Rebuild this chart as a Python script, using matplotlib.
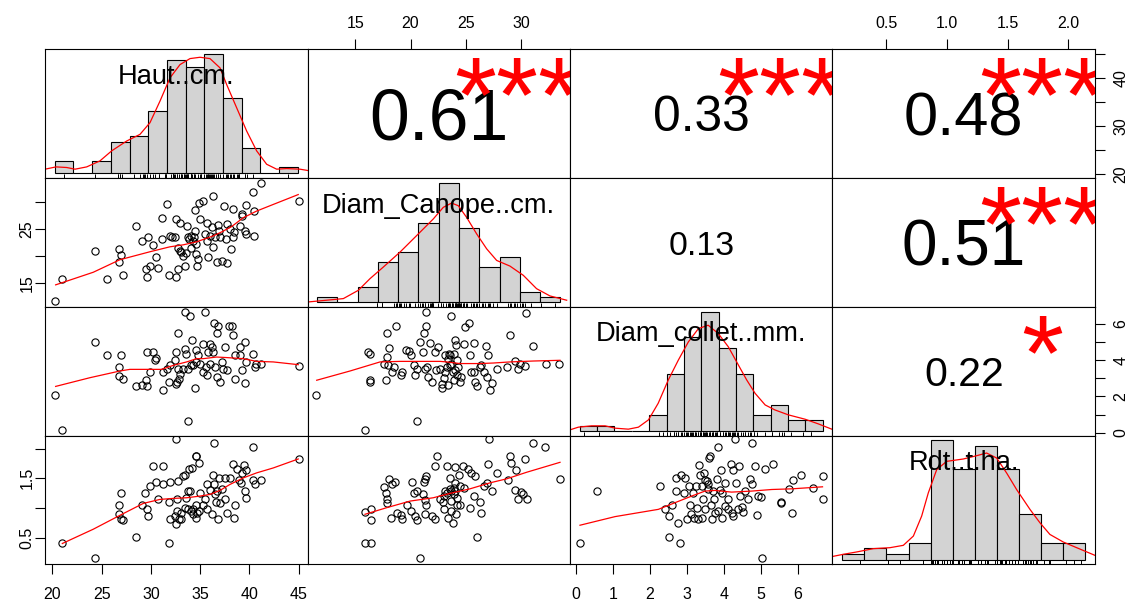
import numpy as np
import matplotlib.pyplot as plt
from matplotlib.transforms import offset_copy

plt.rcParams['font.family'] = ['Liberation Sans', 'DejaVu Sans']

labels = ['Haut..cm.', 'Diam_Canope..cm.', 'Diam_collet..mm.', 'Rdt..t.ha.']

# axis range of each variable (x in its column, y in its row)
lims = [(19.25, 45.9), (10.7, 34.4), (-0.16, 6.94), (0.055, 2.22)]
ticks = [[20, 25, 30, 35, 40, 45], [15, 20, 25, 30], [0, 1, 2, 3, 4, 5, 6], [0.5, 1.0, 1.5, 2.0]]
xtick_labels = [['20', '25', '30', '35', '40', '45'], ['15', '20', '25', '30'],
                ['0', '1', '2', '3', '4', '5', '6'], ['0.5', '1.0', '1.5', '2.0']]
ytick_labels = [['20', '', '30', '', '40', ''], ['15', '', '25', ''],
                ['0', '', '2', '', '4', '', '6'], ['0.5', '', '1.5', '']]

# histograms (breaks and counts)
haut_breaks = [20, 22, 24, 26, 28, 30, 32, 34, 36, 38, 40, 42, 44, 46]
haut_counts = [2, 0, 2, 5, 6, 10, 18, 17, 19, 12, 4, 0, 1]
canope_breaks = [10, 12, 14, 16, 18, 20, 22, 24, 26, 28, 30, 32, 34]
canope_counts = [1, 0, 3, 8, 10, 16, 24, 15, 7, 9, 2, 1]
collet_breaks = [0, 0.5, 1, 1.5, 2, 2.5, 3, 3.5, 4, 4.5, 5, 5.5, 6, 6.5, 7]
collet_counts = [1, 1, 0, 0, 3, 11, 18, 23, 16, 11, 3, 5, 2, 2]
rdt_breaks = [0.0, 0.2, 0.4, 0.6, 0.8, 1.0, 1.2, 1.4, 1.6, 1.8, 2.0, 2.2]
rdt_counts = [1, 2, 1, 3, 21, 16, 20, 16, 8, 3, 3]

# kernel density curves
haut_dens_x = [18.96, 20.14, 21.28, 22.17, 23.42, 24.84, 26.09, 27.70, 29.12, 30.19, 31.26, 32.33, 33.40,
               34.47, 35.54, 36.61, 37.68, 38.39, 39.46, 40.53, 41.60, 42.67, 43.74, 44.81, 46.24, 47.31]
haut_dens_y = [0.0034, 0.0053, 0.0048, 0.0034, 0.0053, 0.0103, 0.0186, 0.0268, 0.0323, 0.0420, 0.0599, 0.0792,
               0.0902, 0.0952, 0.0963, 0.0952, 0.0875, 0.0737, 0.0544, 0.0351, 0.0186, 0.0075, 0.0034, 0.0039,
               0.0034, 0.0020]
canope_dens_x = [9.12, 10.93, 12.58, 14.06, 15.21, 16.53, 18.17, 19.82, 21.46, 22.45, 23.27, 23.93, 24.75,
                 25.74, 26.73, 27.72, 29.03, 30.35, 31.66, 32.98, 34.63]
canope_dens_y = [0.0001, 0.0019, 0.0036, 0.0123, 0.0245, 0.0367, 0.0523, 0.0697, 0.0871, 0.0993, 0.1038,
                 0.1010, 0.0888, 0.0715, 0.0558, 0.0436, 0.0377, 0.0280, 0.0140, 0.0064, 0.0019]
collet_dens_x = [-0.28, -0.04, 0.34, 0.73, 1.02, 1.40, 1.69, 1.98, 2.26, 2.55, 2.84, 3.13, 3.42, 3.70, 3.99,
                 4.28, 4.57, 4.81, 5.05, 5.34, 5.62, 6.01, 6.49, 6.87, 7.26]
collet_dens_y = [0.0038, 0.0145, 0.0199, 0.0199, 0.0105, 0.0065, 0.0145, 0.0439, 0.1106, 0.2040, 0.2841,
                 0.3575, 0.4109, 0.4243, 0.3909, 0.3375, 0.2641, 0.2040, 0.1507, 0.1039, 0.0839, 0.0639,
                 0.0465, 0.0278, 0.0065]
rdt_dens_x = [-0.096, 0.010, 0.131, 0.282, 0.432, 0.553, 0.644, 0.719, 0.779, 0.855, 0.945, 1.096, 1.217,
              1.307, 1.398, 1.488, 1.579, 1.700, 1.790, 1.880, 2.001, 2.122, 2.288]
rdt_dens_y = [0.027, 0.049, 0.071, 0.102, 0.111, 0.133, 0.220, 0.407, 0.624, 0.842, 0.920, 0.942, 0.973,
              0.998, 0.951, 0.811, 0.655, 0.469, 0.344, 0.235, 0.164, 0.111, 0.039]

# scatter panels
haut_canope_x = [20.3, 21.0, 24.3, 25.5, 26.8, 27.0, 26.8, 27.2, 28.5, 29.1, 29.7, 29.5, 29.9, 29.6, 30.2,
                 30.5, 30.7, 31.1, 31.1, 31.6, 31.8, 31.9, 32.1, 32.4, 32.6, 32.6, 32.8, 33.0, 32.8, 33.0,
                 33.1, 33.5, 33.7, 33.8, 33.6, 33.9, 34.1, 34.3, 34.4, 34.5, 34.6, 34.5, 34.6, 34.8, 34.7,
                 34.9, 35.3, 35.0, 35.5, 35.7, 35.8, 36.0, 36.2, 36.3, 36.3, 36.5, 36.7, 36.8, 36.9, 37.0,
                 37.2, 37.4, 37.6, 37.7, 37.7, 38.0, 38.1, 38.3, 38.3, 38.4, 39.0, 39.2, 39.3, 39.6, 39.7,
                 39.7, 40.4, 40.5, 40.5, 41.2, 45.0, 35.7, 33.3, 34.1]
haut_canope_y = [11.7, 15.8, 20.9, 15.8, 21.3, 20.3, 18.9, 16.5, 25.6, 22.8, 23.5, 17.7, 18.2, 16.1, 22.1,
                 19.8, 17.8, 27.1, 23.1, 29.7, 16.5, 23.8, 23.5, 23.6, 26.8, 16.1, 17.7, 26.2, 21.6, 21.0,
                 20.7, 18.3, 25.6, 23.5, 20.6, 23.1, 23.8, 22.8, 23.5, 28.6, 22.2, 24.7, 20.4, 19.5, 18.2,
                 29.8, 30.1, 26.8, 24.1, 26.2, 19.8, 23.8, 25.3, 31.1, 21.7, 23.5, 19.0, 25.7, 24.7, 23.5,
                 19.2, 29.2, 23.1, 25.9, 18.8, 25.0, 21.3, 28.7, 23.5, 24.4, 25.6, 27.4, 27.7, 24.7, 29.4,
                 24.1, 31.9, 28.4, 23.8, 33.4, 30.1, 22.8, 20.1, 21.6]
haut_collet_x = [20.3, 21.0, 24.3, 25.5, 27.0, 26.8, 26.8, 27.2, 28.5, 29.1, 29.5, 29.6, 29.9, 29.6, 30.2,
                 30.5, 30.4, 31.2, 31.2, 31.6, 31.8, 31.9, 32.4, 32.6, 32.7, 32.8, 33.0, 32.8, 32.9, 32.6,
                 33.5, 33.6, 33.8, 33.8, 33.5, 34.0, 34.2, 34.5, 34.3, 34.6, 34.8, 34.6, 35.0, 35.3, 35.3,
                 35.5, 35.7, 35.8, 36.0, 36.2, 36.3, 36.4, 36.7, 36.8, 36.5, 36.7, 37.0, 37.5, 37.3, 37.7,
                 37.9, 38.2, 38.3, 38.5, 38.5, 39.0, 39.2, 39.0, 39.6, 39.6, 39.7, 40.4, 40.6, 40.7, 41.2,
                 45.0, 34.1, 33.3, 35.6, 36.0, 37.2]
haut_collet_y = [2.06, 0.13, 5.00, 4.26, 4.26, 3.62, 3.11, 2.98, 2.55, 2.61, 2.89, 2.55, 3.35, 4.45, 4.45,
                 4.14, 3.99, 2.33, 3.35, 3.53, 2.79, 3.71, 3.99, 4.45, 2.79, 5.52, 3.25, 3.53, 2.98, 2.70,
                 4.63, 4.36, 3.53, 0.62, 6.66, 6.42, 5.09, 2.48, 3.71, 4.54, 4.26, 3.90, 3.81, 4.91, 3.35,
                 6.64, 3.16, 4.45, 4.91, 4.72, 4.45, 6.05, 5.50, 5.87, 3.62, 3.07, 2.79, 4.72, 3.53, 3.44,
                 5.87, 5.87, 5.37, 4.26, 2.98, 4.26, 3.47, 4.72, 2.74, 5.00, 3.90, 4.36, 3.62, 3.81, 3.81,
                 3.66, 3.71, 3.53, 3.62, 3.81, 3.90]
haut_rdt_x = [21.0, 24.3, 26.8, 27.0, 26.8, 27.0, 27.2, 28.5, 29.1, 29.4, 29.6, 29.7, 29.9, 30.2, 30.5,
              30.7, 31.2, 31.2, 31.8, 31.8, 31.9, 31.9, 32.4, 32.6, 32.7, 32.7, 32.8, 32.6, 32.9, 33.1,
              33.1, 33.3, 33.5, 33.6, 33.8, 33.9, 34.0, 34.1, 34.2, 34.3, 34.6, 34.6, 34.6, 34.6, 34.7,
              34.9, 34.9, 35.0, 35.3, 35.5, 35.7, 35.7, 36.0, 36.2, 36.3, 36.4, 36.4, 36.5, 36.6, 36.7,
              36.8, 36.9, 37.0, 37.2, 37.5, 37.5, 37.7, 38.0, 38.3, 38.4, 38.5, 38.7, 38.9, 39.1, 39.2,
              39.5, 39.6, 39.7, 39.7, 40.4, 40.4, 40.6, 41.2, 45.0, 33.8, 34.3, 33.5]
haut_rdt_y = [0.41, 0.16, 1.05, 1.26, 0.90, 0.82, 0.80, 0.52, 1.06, 1.26, 0.99, 0.87, 1.38, 1.70, 1.44,
              1.16, 1.71, 1.40, 1.10, 0.41, 1.44, 0.82, 0.86, 0.73, 0.95, 1.16, 1.45, 2.16, 0.82, 0.81,
              0.92, 1.54, 1.56, 1.17, 1.29, 1.65, 1.29, 0.95, 1.68, 0.98, 1.88, 1.87, 1.06, 0.84, 0.92,
              1.76, 0.95, 1.26, 1.06, 1.15, 1.40, 0.98, 1.31, 0.90, 1.56, 2.10, 1.40, 1.23, 1.10, 1.29,
              0.82, 1.51, 1.08, 1.32, 1.51, 1.15, 0.92, 1.51, 1.75, 0.84, 1.05, 1.66, 1.48, 1.43, 1.59,
              1.73, 1.29, 1.64, 1.17, 2.03, 1.47, 1.40, 1.48, 1.83, 0.98, 0.90, 1.00]
canope_collet_x = [11.5, 15.9, 20.6, 16.3, 16.3, 16.2, 16.3, 17.6, 17.9, 18.7, 18.1, 17.9, 18.0, 18.3, 18.5,
                   17.8, 19.1, 19.2, 19.6, 19.9, 20.0, 20.3, 20.4, 20.6, 20.9, 21.1, 21.2, 21.4, 21.4, 21.3,
                   21.5, 21.6, 21.8, 21.9, 22.2, 22.3, 22.5, 22.7, 22.8, 23.0, 23.1, 23.3, 23.4, 23.5, 23.6,
                   23.7, 23.7, 23.8, 23.9, 23.9, 24.0, 24.1, 24.2, 24.3, 24.5, 24.6, 24.8, 24.9, 25.3, 25.4,
                   25.5, 25.7, 25.8, 26.0, 26.3, 26.4, 26.6, 26.8, 27.0, 26.9, 27.2, 27.4, 27.8, 28.7, 29.0,
                   29.4, 29.7, 29.9, 30.3, 30.4, 31.1, 32.2, 33.4, 23.6, 24.0, 23.1, 23.4, 22.8, 24.2, 25.7]
canope_collet_y = [2.06, 0.13, 0.62, 2.89, 2.77, 4.45, 4.36, 3.81, 5.52, 5.87, 4.67, 4.17, 3.71, 3.35, 3.62,
                   2.92, 3.16, 3.35, 4.54, 4.50, 4.27, 3.71, 3.16, 3.53, 5.00, 4.45, 5.50, 5.87, 6.66, 3.53,
                   3.62, 3.07, 4.95, 2.79, 4.45, 3.44, 4.73, 3.53, 2.48, 3.03, 4.27, 3.62, 4.08, 4.36, 4.27,
                   6.42, 3.81, 3.35, 2.89, 4.36, 5.09, 4.82, 3.99, 3.62, 2.79, 3.07, 4.87, 5.83, 6.05, 4.27,
                   3.35, 4.95, 2.79, 2.55, 3.62, 3.71, 3.35, 4.76, 4.27, 3.07, 2.33, 2.74, 3.49, 3.62, 5.37,
                   3.95, 3.53, 3.77, 3.68, 6.62, 4.76, 3.81, 3.81, 3.71, 3.44, 3.35, 2.61, 2.70, 3.16, 3.35]
canope_rdt_x = [15.9, 16.4, 20.9, 26.0, 15.9, 16.4, 16.4, 17.6, 17.8, 17.9, 17.9, 18.1, 18.3, 18.6, 18.2,
                18.8, 19.1, 19.2, 19.7, 20.0, 20.1, 20.3, 20.6, 20.4, 20.6, 21.1, 21.2, 21.3, 21.4, 21.3,
                21.4, 21.3, 21.9, 22.2, 22.2, 22.4, 22.7, 22.9, 23.0, 23.1, 23.3, 23.4, 23.6, 23.6, 23.7,
                23.7, 23.8, 23.9, 23.9, 24.0, 24.0, 24.1, 24.2, 24.2, 24.4, 24.5, 24.7, 24.8, 25.2, 25.4,
                25.5, 25.7, 25.8, 26.3, 26.4, 26.6, 26.9, 27.0, 27.1, 27.4, 27.8, 28.8, 29.0, 29.1, 29.4,
                29.5, 29.7, 30.0, 30.2, 30.3, 30.5, 31.1, 32.1, 33.5, 23.3, 23.7, 24.0, 23.0, 24.5]
canope_rdt_y = [0.41, 0.41, 0.16, 0.52, 0.94, 0.99, 0.80, 1.36, 1.26, 1.15, 1.08, 1.49, 1.40, 1.44, 0.84,
                0.92, 0.88, 0.82, 1.05, 0.95, 1.44, 1.26, 1.29, 0.87, 0.80, 1.23, 1.44, 1.49, 1.54, 1.14,
                1.06, 0.90, 0.87, 0.82, 1.70, 1.87, 1.15, 1.10, 0.98, 1.29, 1.71, 0.84, 1.51, 1.32, 1.29,
                0.95, 0.75, 1.34, 1.23, 1.69, 1.43, 0.90, 1.17, 1.05, 1.55, 1.05, 1.71, 1.34, 1.65, 1.01,
                1.59, 1.21, 1.54, 1.10, 0.92, 1.38, 1.43, 1.75, 2.16, 1.29, 1.59, 1.48, 1.88, 1.76, 1.31,
                1.64, 1.16, 1.27, 1.23, 1.83, 1.16, 2.10, 2.03, 1.49, 1.26, 1.12, 1.29, 1.20, 1.37]
collet_rdt_x = [0.11, 0.56, 2.27, 2.41, 2.51, 2.51, 2.61, 2.72, 2.72, 2.77, 2.82, 2.84, 2.91, 2.95, 3.00,
                3.06, 3.09, 3.11, 3.18, 3.20, 3.24, 3.27, 3.31, 3.33, 3.36, 3.40, 3.42, 3.45, 3.47, 3.49,
                3.54, 3.56, 3.58, 3.60, 3.63, 3.65, 3.67, 3.72, 3.74, 3.81, 3.83, 3.85, 3.90, 3.92, 3.94,
                3.96, 4.03, 4.12, 4.12, 4.19, 4.26, 4.26, 4.30, 4.32, 4.38, 4.41, 4.44, 4.48, 4.53, 4.57,
                4.65, 4.71, 4.75, 4.77, 4.84, 4.89, 4.92, 5.01, 5.02, 5.12, 5.34, 5.55, 5.55, 5.75, 5.84,
                5.88, 6.09, 6.42, 6.67, 6.67, 3.49, 3.76, 4.03, 4.21]
collet_rdt_y = [0.41, 1.29, 1.38, 0.98, 0.87, 0.52, 1.06, 1.51, 1.29, 0.75, 0.41, 1.55, 1.26, 1.51, 0.81,
                1.38, 1.05, 0.90, 1.26, 0.84, 1.38, 1.01, 0.81, 1.73, 1.56, 1.38, 0.84, 1.15, 1.59, 1.48,
                1.45, 1.41, 1.32, 1.84, 1.88, 1.05, 0.82, 1.29, 1.15, 1.49, 2.03, 0.95, 1.31, 1.64, 1.26,
                0.84, 1.43, 1.15, 0.98, 1.75, 1.64, 0.86, 2.16, 1.43, 0.98, 1.70, 1.20, 1.02, 0.94, 1.29,
                1.15, 1.49, 2.10, 1.41, 1.71, 0.88, 1.21, 1.19, 0.16, 1.66, 1.75, 1.10, 1.08, 1.32, 0.92,
                1.47, 1.56, 1.34, 1.54, 1.16, 0.98, 0.92, 1.04, 0.92]

# smoothers (lowess) in the scatter panels
haut_canope_fit_x = [20.33, 24.15, 26.86, 29.90, 31.93, 33.29, 34.64, 36.33, 37.18, 38.19, 39.38, 40.73, 42.42, 44.96]
haut_canope_fit_y = [14.74, 17.06, 19.37, 20.83, 21.74, 22.11, 22.66, 23.75, 24.48, 25.46, 27.10, 28.32, 29.54, 31.36]
haut_collet_fit_x = [20.33, 23.81, 26.86, 27.87, 31.09, 32.27, 33.63, 34.64, 35.32, 36.67, 37.69, 39.38, 40.73, 42.42, 44.96]
haut_collet_fit_y = [2.55, 3.03, 3.40, 3.49, 3.49, 3.71, 3.90, 4.08, 4.08, 4.17, 4.14, 4.08, 3.93, 3.90, 3.75]
haut_rdt_fit_x = [21.01, 24.15, 26.86, 29.23, 30.92, 32.27, 33.63, 34.98, 36.00, 37.01, 38.02, 39.38, 40.73, 42.42, 44.96]
haut_rdt_fit_y = [0.405, 0.645, 0.879, 1.079, 1.146, 1.163, 1.174, 1.202, 1.230, 1.297, 1.397, 1.508, 1.592, 1.675, 1.826]
canope_collet_fit_x = [11.53, 14.54, 17.25, 19.05, 20.86, 22.67, 23.27, 24.47, 26.28, 27.48, 28.99, 31.09, 33.50]
canope_collet_fit_y = [2.89, 3.40, 3.90, 3.93, 3.93, 3.93, 3.90, 3.81, 3.81, 3.84, 3.90, 3.95, 3.99]
canope_rdt_fit_x = [15.89, 17.85, 19.96, 22.06, 23.57, 25.37, 27.18, 28.68, 30.49, 33.50]
canope_rdt_fit_y = [0.896, 1.007, 1.118, 1.174, 1.247, 1.324, 1.425, 1.492, 1.603, 1.770]
collet_rdt_fit_x = [0.11, 1.06, 2.23, 2.68, 3.13, 3.49, 3.76, 4.21, 4.75, 5.30, 5.84, 6.67]
collet_rdt_fit_y = [0.712, 0.857, 0.979, 1.091, 1.202, 1.286, 1.297, 1.269, 1.286, 1.313, 1.324, 1.358]

# correlations shown in the upper panels
cor_values = [0.61, 0.33, 0.48, 0.13, 0.51, 0.22]
cor_stars = ['***', '***', '***', '', '***', '*']

hists = [(haut_breaks, haut_counts, haut_dens_x, haut_dens_y, haut_rdt_x),
         (canope_breaks, canope_counts, canope_dens_x, canope_dens_y, canope_rdt_x),
         (collet_breaks, collet_counts, collet_dens_x, collet_dens_y, collet_rdt_x),
         (rdt_breaks, rdt_counts, rdt_dens_x, rdt_dens_y, haut_rdt_y)]
scatters = {(1, 0): (haut_canope_x, haut_canope_y, haut_canope_fit_x, haut_canope_fit_y),
            (2, 0): (haut_collet_x, haut_collet_y, haut_collet_fit_x, haut_collet_fit_y),
            (3, 0): (haut_rdt_x, haut_rdt_y, haut_rdt_fit_x, haut_rdt_fit_y),
            (2, 1): (canope_collet_x, canope_collet_y, canope_collet_fit_x, canope_collet_fit_y),
            (3, 1): (canope_rdt_x, canope_rdt_y, canope_rdt_fit_x, canope_rdt_fit_y),
            (3, 2): (collet_rdt_x, collet_rdt_y, collet_rdt_fit_x, collet_rdt_fit_y)}
upper = [(0, 1), (0, 2), (0, 3), (1, 2), (1, 3), (2, 3)]

fig = plt.figure(figsize=(11.29, 6.03), dpi=100)
L, R, B, T = 45 / 1129, 1095 / 1129, 1 - 564.3 / 603, 1 - 49.3 / 603
pw, ph = (R - L) / 4, (T - B) / 4
panel_px = pw * 1129

# font sizes as in chart.Correlation: the number fills about 0.8 of the panel width
star_fs = 0.8 * panel_px / 1.946 * 0.72
num_fs = 0.76 * panel_px / 1.946 * 0.72
lab_fs = 19.6
tick_fs = 11.5

for i in range(4):
    for j in range(4):
        ax = fig.add_axes([L + j * pw, T - (i + 1) * ph, pw, ph])
        for s in ax.spines.values():
            s.set_linewidth(0.8)
        ax.tick_params(which='both', bottom=False, top=False, left=False, right=False,
                       labelbottom=False, labeltop=False, labelleft=False, labelright=False,
                       direction='out', length=7, width=0.8, labelsize=tick_fs)
        if i == j:
            br, cnt, dx, dy, rug = hists[i]
            br = np.array(br, dtype=float)
            cnt = np.array(cnt, dtype=float)
            w = np.diff(br)
            dens = cnt / (cnt.sum() * w)
            span = br[-1] - br[0]
            ax.set_xlim(br[0] - 0.04 * span, br[-1] + 0.04 * span)
            m = dens.max()
            ax.set_ylim(-0.04 * m, 1.04 * m)
            ax.bar(br[:-1], dens, width=w, align='edge', color='#D3D3D3',
                   edgecolor='black', linewidth=0.8)
            ax.plot(dx, dy, color='red', lw=0.9)
            ax.vlines(rug, 0, 0.03, transform=ax.get_xaxis_transform(), color='black', lw=0.7)
            tr = offset_copy(ax.transAxes, fig=fig, y=-0.48 * lab_fs, units='points')
            ax.text(0.5, 0.833, labels[i], transform=tr, ha='center', va='baseline',
                    fontsize=lab_fs, color='black')
            ax.set_xticks([])
            ax.set_yticks([])
            continue

        ax.set_xlim(lims[j])
        ax.set_ylim(lims[i])
        if i > j:
            x, y, fx, fy = scatters[(i, j)]
            ax.plot(x, y, 'o', mfc='none', mec='black', ms=5.2, mew=0.8)
            ax.plot(fx, fy, color='red', lw=0.9)
        else:
            k = upper.index((i, j))
            r = cor_values[k]
            fs = num_fs * (abs(r) + 0.3) / 1.3
            tr = offset_copy(ax.transAxes, fig=fig, y=-0.358 * fs, units='points')
            ax.text(0.5, 0.5, '%.2f' % r, transform=tr, ha='center', va='baseline', fontsize=fs)
            if cor_stars[k]:
                tr2 = offset_copy(ax.transAxes, fig=fig, y=-0.52 * star_fs, units='points')
                ax.text(0.8, 0.8, cor_stars[k], transform=tr2, ha='center', va='baseline',
                        fontsize=star_fs, color='red', clip_on=True)

        # axes alternate around the matrix like pairs()
        show_x = (i == 3 and j % 2 == 0) or (i == 0 and j % 2 == 1)
        show_y = (j == 0 and i % 2 == 1) or (j == 3 and i % 2 == 0)
        if show_x:
            ax.set_xticks(ticks[j], xtick_labels[j])
            if i == 3:
                ax.tick_params(axis='x', bottom=True, labelbottom=True, pad=9.5)
            else:
                ax.tick_params(axis='x', top=True, labeltop=True, pad=6.4)
        else:
            ax.set_xticks([])
        if show_y:
            ax.set_yticks(ticks[i], ytick_labels[i])
            if j == 0:
                ax.tick_params(axis='y', left=True, labelleft=True, labelrotation=90, pad=0.5)
            else:
                ax.tick_params(axis='y', right=True, labelright=True, labelrotation=90, pad=6.2)
            for tk in ax.yaxis.get_major_ticks():
                tk.label1.set_va('center')
                tk.label2.set_va('center')
        else:
            ax.set_yticks([])

fig.savefig('out.png', dpi=100)
